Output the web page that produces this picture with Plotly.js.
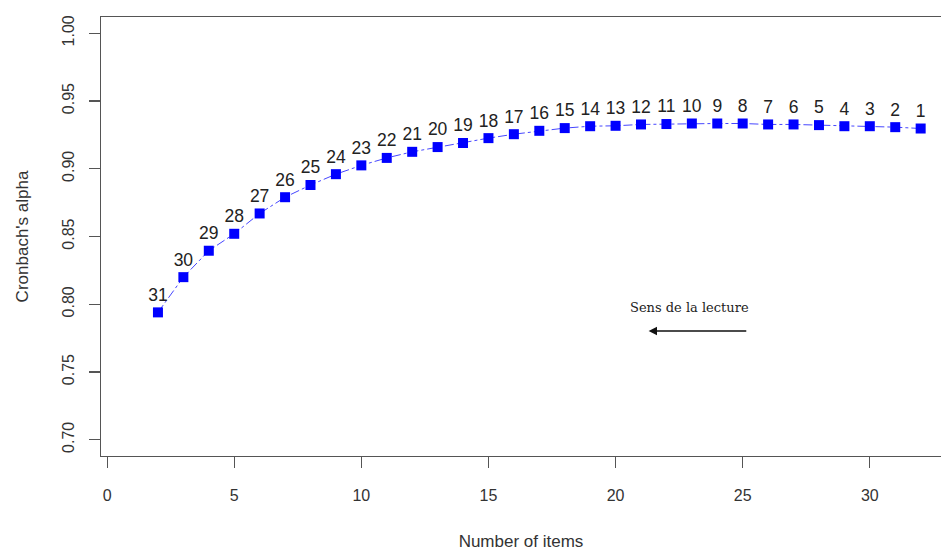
<!DOCTYPE html>
<html>
<head>
<meta charset="utf-8">
<script src="https://cdn.plot.ly/plotly-3.0.1.min.js"></script>
<style>html,body{margin:0;padding:0;background:#fff;}#chart{width:941px;height:552px;}</style>
</head>
<body>
<div id="chart"></div>
<script>
// Number of items retained
const nItems = [2,3,4,5,6,7,8,9,10,11,12,13,14,15,16,17,18,19,20,21,22,23,24,25,26,27,28,29,30,31,32];
// Cronbach's alpha for each number of items
const alpha = [0.794,0.820,0.8395,0.852,0.867,0.879,0.888,0.896,0.9025,0.908,0.9125,0.916,0.919,0.9226,0.9255,0.928,0.930,0.9314,0.9317,0.9327,0.933,0.9334,0.9334,0.9334,0.9327,0.9327,0.9322,0.9314,0.9314,0.9307,0.9297];
// Step labels (order of removal)
const stepLabels = ["31","30","29","28","27","26","25","24","23","22","21","20","19","18","17","16","15","14","13","12","11","10","9","8","7","6","5","4","3","2","1"];
const xTicks = [0,5,10,15,20,25,30];
const yTicks = [0.70,0.75,0.80,0.85,0.90,0.95,1.00];
const noteText = "Sens de la lecture";

const trace = {
  x: nItems,
  y: alpha,
  text: stepLabels,
  mode: 'lines+markers+text',
  textposition: 'top center',
  textfont: {family: 'Liberation Sans, Arial, sans-serif', size: 17.5, color: '#222'},
  line: {color: 'rgb(70,70,255)', width: 1, dash: 'dashdot'},
  marker: {symbol: 'square', size: 10, color: '#0000ff'},
  cliponaxis: false,
  hoverinfo: 'x+y'
};

const axisFont = {family: 'Liberation Sans, Arial, sans-serif', size: 16, color: '#333'};
const titleFont = {family: 'Liberation Sans, Arial, sans-serif', size: 17, color: '#333'};

const layout = {
  width: 941, height: 552,
  margin: {l: 101, r: 0, t: 17, b: 96},
  paper_bgcolor: '#fff', plot_bgcolor: '#fff',
  showlegend: false,
  xaxis: {
    range: [-0.24, 32.8],
    tickvals: xTicks,
    ticktext: xTicks.map(String),
    showgrid: false, zeroline: false,
    showline: true, mirror: true, linecolor: '#555', linewidth: 1.2,
    ticks: 'outside', ticklen: 11, tickwidth: 1.2, tickcolor: '#555',
    ticklabelstandoff: 14,
    tickfont: axisFont,
    title: {text: 'Number of items', font: titleFont, standoff: 31}
  },
  yaxis: {
    range: [0.688, 1.012],
    tickvals: yTicks,
    ticktext: yTicks.map(v => v.toFixed(2)),
    tickangle: -90,
    showgrid: false, zeroline: false,
    showline: true, linecolor: '#555', linewidth: 1.2,
    ticks: 'outside', ticklen: 11, tickwidth: 1.2, tickcolor: '#555',
    ticklabelstandoff: 8,
    tickfont: axisFont,
    title: {text: "Cronbach's alpha", font: titleFont, standoff: 27}
  },
  annotations: [
    {
      xref: 'x', yref: 'y', x: 22.9, y: 0.7975,
      text: noteText, showarrow: false,
      font: {family: 'DejaVu Serif, Liberation Serif, serif', size: 13, color: '#222'}
    },
    {
      xref: 'x', yref: 'y', axref: 'x', ayref: 'y',
      x: 21.3, y: 0.7803, ax: 25.2, ay: 0.7803,
      text: '', showarrow: true, arrowhead: 2, arrowsize: 1.2, arrowwidth: 1.4, arrowcolor: '#111'
    }
  ]
};

Plotly.newPlot('chart', [trace], layout, {displayModeBar: false, staticPlot: true});
</script>
</body>
</html>
